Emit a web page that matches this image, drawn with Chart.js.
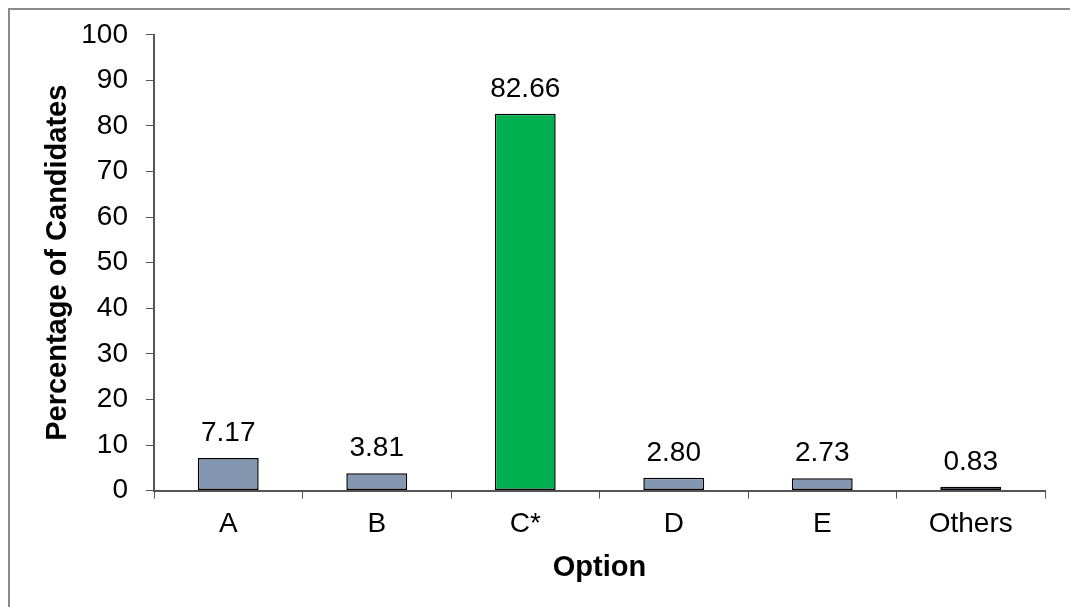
<!DOCTYPE html>
<html>
<head>
    <meta charset="utf-8" />
    <title>Option chart</title>
    <script src="https://cdn.jsdelivr.net/npm/chart.js@4/dist/chart.umd.min.js"></script>
    <style>
        html, body { margin: 0; padding: 0; background: #fff; }
        #wrap { width: 1070px; height: 607px; position: relative; }
    </style>
</head>
<body>
<div id="wrap">
    <canvas id="canvasOpciones" width="1070" height="607"></canvas>
</div>
<script type="text/javascript">
    // data
    var categorias = ["A", "B", "C*", "D", "E", "Others"];
    var porcentajes = [7.17, 3.81, 82.66, 2.80, 2.73, 0.83];
    var colores = ["#8497b0", "#8497b0", "#00b050", "#8497b0", "#8497b0", "#8497b0"];

    Chart.defaults.font.family = "'Liberation Sans', Arial, sans-serif";
    Chart.defaults.color = "#000";

    // frame on top and left, like the original picture
    var marco = {
        id: 'marco',
        beforeDraw: function(chart) {
            var ctx = chart.ctx;
            ctx.save();
            ctx.fillStyle = '#fff';
            ctx.fillRect(0, 0, chart.width, chart.height);
            ctx.strokeStyle = '#8a8a8a';
            ctx.lineWidth = 2;
            ctx.beginPath();
            ctx.moveTo(9, chart.height);
            ctx.lineTo(9, 9);
            ctx.lineTo(chart.width, 9);
            ctx.stroke();
            ctx.restore();
        }
    };

    // value labels above each bar
    var etiquetas = {
        id: 'etiquetas',
        afterDatasetsDraw: function(chart) {
            var ctx = chart.ctx;
            var meta = chart.getDatasetMeta(0);
            ctx.save();
            ctx.font = "28px 'Liberation Sans', Arial, sans-serif";
            ctx.fillStyle = '#000';
            ctx.textAlign = 'center';
            ctx.textBaseline = 'alphabetic';
            meta.data.forEach(function(bar, i) {
                ctx.fillText(porcentajes[i].toFixed(2), bar.x, bar.y - 17);
            });
            ctx.restore();
        }
    };

    var config = {
        type: 'bar',
        data: {
            labels: categorias,
            datasets: [{
                data: porcentajes,
                backgroundColor: colores,
                borderColor: '#000',
                borderWidth: 1.5,
                borderSkipped: false,
                barPercentage: 0.41,
                categoryPercentage: 1
            }]
        },
        options: {
            responsive: false,
            animation: false,
            layout: { padding: { left: 0, right: 25, top: 30, bottom: 22 } },
            plugins: {
                legend: { display: false },
                tooltip: { enabled: false }
            },
            scales: {
                x: {
                    grid: {
                        display: true,
                        drawOnChartArea: false,
                        offset: true,
                        tickLength: 8,
                        color: '#555'
                    },
                    border: { color: '#555', width: 2 },
                    ticks: { padding: 9, font: { size: 28 } },
                    title: {
                        display: true,
                        text: 'Option',
                        font: { size: 29, weight: 'bold' },
                        padding: { top: 0, bottom: 0 }
                    }
                },
                y: {
                    min: 0,
                    max: 100,
                    afterFit: function(scale) { scale.width = 154; },
                    grid: {
                        display: true,
                        drawOnChartArea: false,
                        tickLength: 8,
                        color: '#555'
                    },
                    border: { color: '#555', width: 2 },
                    ticks: { stepSize: 10, padding: 18, font: { size: 28 } },
                    title: {
                        display: true,
                        text: 'Percentage of Candidates',
                        font: { size: 29, weight: 'bold' },
                        padding: { top: 41, bottom: 0 }
                    }
                }
            }
        },
        plugins: [marco, etiquetas]
    };

    var ctx = document.getElementById("canvasOpciones").getContext("2d");
    var grafico = new Chart(ctx, config);
</script>
</body>
</html>
